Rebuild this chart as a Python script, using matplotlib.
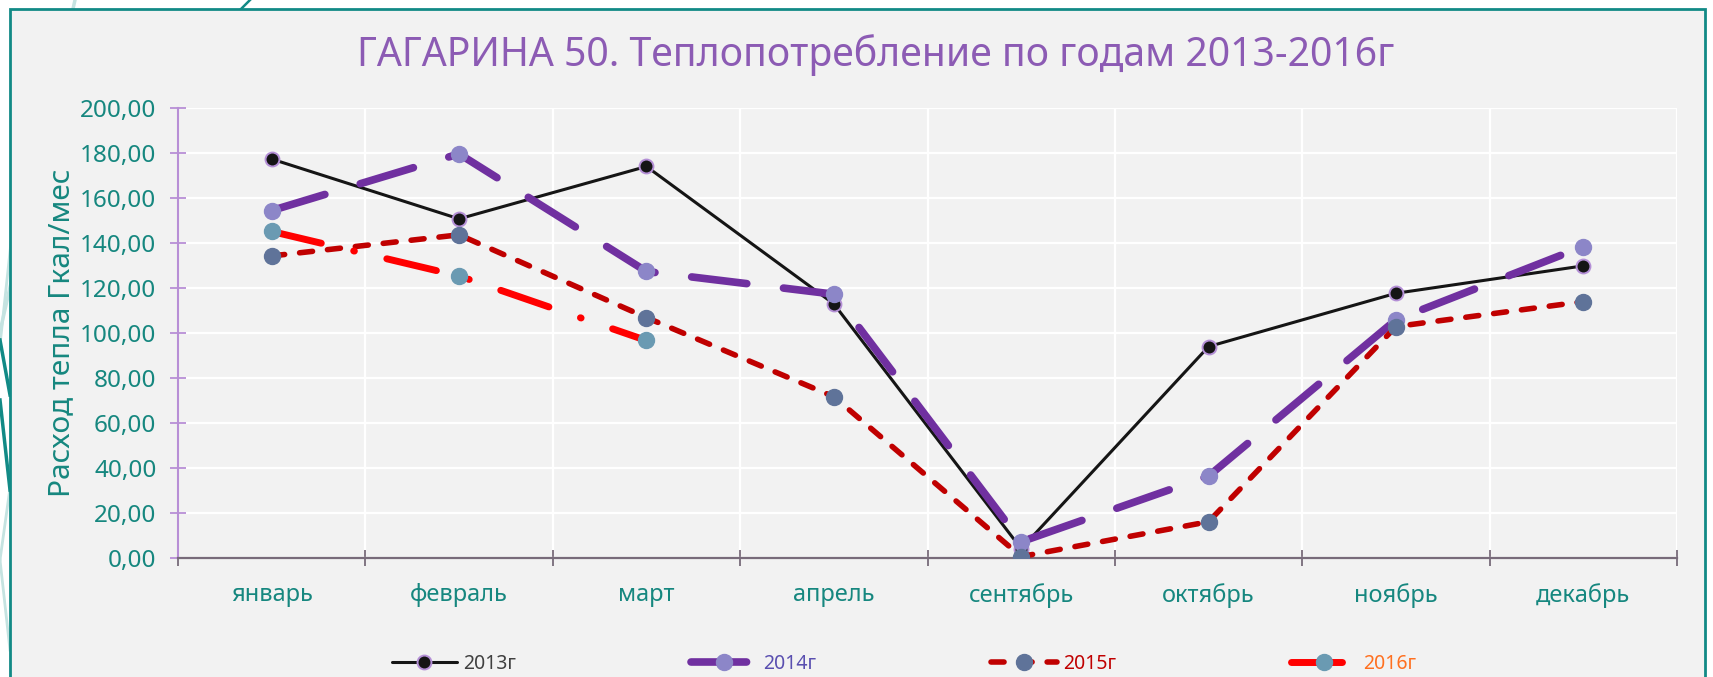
import matplotlib
matplotlib.use("Agg")
import matplotlib.pyplot as plt
from matplotlib.lines import Line2D
from matplotlib.patches import Rectangle

plt.rcParams['font.family'] = ['Noto Sans', 'DejaVu Sans']
plt.rcParams['lines.scale_dashes'] = False

# ---------------- data ----------------
months = ['январь', 'февраль', 'март', 'апрель', 'сентябрь', 'октябрь', 'ноябрь', 'декабрь']
y2013 = [177.3, 150.7, 174.0, 112.9, 4.0, 93.9, 117.6, 129.8]
y2014 = [154.4, 179.6, 127.3, 117.2, 7.1, 36.3, 105.8, 138.4]
y2015 = [134.2, 143.6, 106.8, 71.6, 0.5, 16.0, 102.8, 113.9]
y2016 = [145.1, 125.3, 96.6]
series_names = ['2013г', '2014г', '2015г', '2016г']
yticks = [0, 20, 40, 60, 80, 100, 120, 140, 160, 180, 200]
title = 'ГАГАРИНА 50. Теплопотребление по годам 2013-2016г'
ylabel = 'Расход тепла Гкал/мес'

W, H = 1713, 677
fig = plt.figure(figsize=(W / 100, H / 100), dpi=100, facecolor='white')

# ---------------- background decoration + frame ----------------
bg = fig.add_axes([0, 0, 1, 1], zorder=-10)
bg.set_xlim(0, W)
bg.set_ylim(H, 0)
bg.axis('off')
teal = '#128A86'
light = '#C5E3E1'
bg.plot([75, -20], [0, 420], color=light, lw=2.5)
bg.plot([12, 0], [233, 345], color=light, lw=2.0)
bg.plot([10, 0], [488, 560], color=light, lw=2.0)
bg.plot([0, 10], [560, 650], color=light, lw=2.0)
bg.plot([0, 10], [340, 395], color=teal, lw=2.5)
bg.plot([0, 10], [400, 490], color=teal, lw=2.5)
bg.plot([236, 252], [14, -2], color=teal, lw=1.8)
bg.add_patch(Rectangle((10, 9), 1695, 690, facecolor='#F2F2F2', edgecolor=teal,
                       lw=2.0, zorder=5))

# ---------------- main axes ----------------
left, right = 178 / W, 1677 / W
bottom, top = (H - 557.7) / H, (H - 108) / H
ax = fig.add_axes([left, bottom, right - left, top - bottom])
ax.set_facecolor('none')

x = list(range(len(months)))
ax.plot(x, y2013, color='#151515', lw=2.2, marker='o', ms=10,
        mfc='#151515', mec='#B48FD6', mew=1.4, solid_capstyle='round',
        zorder=3, label=series_names[0])
ax.plot(x, y2014, color='#7030A0', lw=5.5, dashes=(40, 26.6), dash_capstyle='round',
        marker='o', ms=11.5, mfc='#8C86C8', mec='#8C86C8', zorder=4,
        label=series_names[1])
ax.plot(x, y2015, color='#C00000', lw=4, dashes=(9.4, 10.8), dash_capstyle='round',
        marker='o', ms=11.5, mfc='#5F7399', mec='#5F7399', zorder=5,
        label=series_names[2])
ax.plot(x[:len(y2016)], y2016, color='#FF0000', lw=5, dashes=(36.7, 24, 0.5, 24),
        dash_capstyle='round', marker='o', ms=11.5, mfc='#6A9AB2', mec='#6A9AB2',
        zorder=6, label=series_names[3])

ax.set_xlim(-0.5, len(months) - 0.5)
ax.set_ylim(0, 200)

# grid
ax.set_yticks(yticks)
ax.set_yticklabels([f'{v:.2f}'.replace('.', ',') for v in yticks])
ax.set_xticks([i - 0.5 for i in range(len(months) + 1)])
ax.set_xticklabels([''] * (len(months) + 1))
ax.set_xticks(x, minor=True)
ax.set_xticklabels(months, minor=True)
ax.grid(True, which='major', color='white', lw=1.6, zorder=0)
ax.set_axisbelow(True)

for s in ['top', 'right']:
    ax.spines[s].set_visible(False)
ax.spines['left'].set_color('#B88FD6')
ax.spines['left'].set_linewidth(1.5)
ax.spines['bottom'].set_color('#786B7A')
ax.spines['bottom'].set_linewidth(1.6)
ax.spines['bottom'].set_zorder(2.5)

label_color = '#16877F'
ax.tick_params(axis='y', which='major', direction='inout', length=12, width=1.3,
               color='#B88FD6', labelcolor=label_color, labelsize=17.5, pad=9.5)
ax.tick_params(axis='x', which='major', direction='inout', length=11.5, width=1.3,
               color='#786B7A')
ax.tick_params(axis='x', which='minor', length=0, labelcolor=label_color,
               labelsize=17, pad=18)

ax.set_ylabel(ylabel, color=label_color, fontsize=21.5, va='center')
ax.yaxis.set_label_coords((62 - 178) / 1499, 0.5)

fig.text(875.5 / W, 1 - 55 / H, title, color='#8C5BB4', fontsize=28.2,
         ha='center', va='center')

# ---------------- legend ----------------
handles, labels = ax.get_legend_handles_labels()
leg = fig.legend(handles, labels, loc='center', bbox_to_anchor=(904 / W, 1 - 664 / H),
                 ncol=4, frameon=False, fontsize=14, handlelength=3.35,
                 handletextpad=0.35, columnspacing=9.0, numpoints=1)
for t, c in zip(leg.get_texts(), ['#404040', '#5A4FB0', '#C00000', '#FF7020']):
    t.set_color(c)

fig.savefig('out.png', dpi=100, facecolor='white')
